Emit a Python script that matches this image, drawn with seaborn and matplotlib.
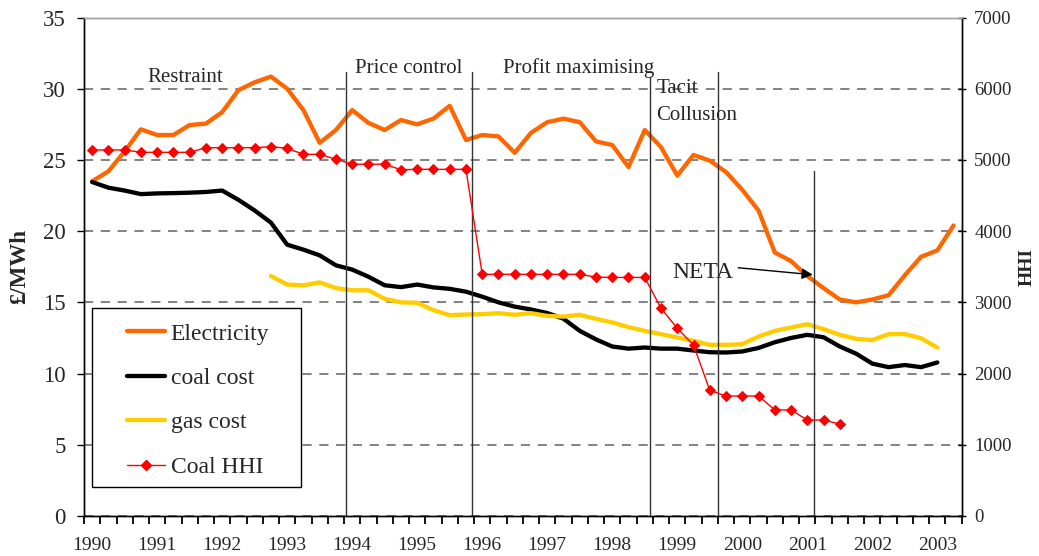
import numpy as np
import pandas as pd
import matplotlib
matplotlib.use("Agg")
import matplotlib.pyplot as plt
import matplotlib.transforms as mtransforms
import seaborn as sns
from matplotlib.patches import Rectangle
from matplotlib.lines import Line2D
from matplotlib.ticker import FixedLocator, FixedFormatter

# ---------------- data (quarterly, 1990 Q1 .. 2003 Q2) ----------------
years = [str(y) for y in range(1990, 2004)]
nan = np.nan

electricity = [23.5, 24.2, 25.6, 27.15, 26.75, 26.75, 27.45, 27.55, 28.35, 29.9,
               30.45, 30.85, 30.0, 28.5, 26.2, 27.1, 28.5, 27.6, 27.1, 27.8,
               27.5, 27.9, 28.8, 26.4, 26.75, 26.65, 25.5, 26.9, 27.65, 27.9,
               27.65, 26.3, 26.05, 24.5, 27.1, 25.9, 23.9, 25.35, 24.95, 24.15,
               22.9, 21.45, 18.5, 17.9, 16.85, 16.0, 15.2, 15.0, 15.2, 15.5,
               16.9, 18.2, 18.65, 20.4]

coal_cost = [23.45, 23.05, 22.85, 22.6, 22.65, 22.67, 22.7, 22.75, 22.85, 22.2,
             21.45, 20.6, 19.05, 18.7, 18.3, 17.6, 17.3, 16.8, 16.2, 16.07,
             16.25, 16.05, 15.95, 15.75, 15.4, 15.0, 14.7, 14.5, 14.25, 13.85,
             13.0, 12.4, 11.9, 11.75, 11.83, 11.75, 11.75, 11.62, 11.5, 11.48,
             11.55, 11.8, 12.2, 12.5, 12.72, 12.55, 11.9, 11.4, 10.7, 10.45,
             10.6, 10.45, 10.78, nan]

gas_cost = [nan, nan, nan, nan, nan, nan, nan, nan, nan, nan,
            nan, 16.85, 16.25, 16.2, 16.4, 16.0, 15.85, 15.85, 15.25, 15.0,
            14.97, 14.45, 14.1, 14.15, 14.17, 14.24, 14.13, 14.24, 14.05, 14.0,
            14.13, 13.84, 13.59, 13.26, 13.0, 12.77, 12.53, 12.3, 12.02, 12.02,
            12.06, 12.6, 13.0, 13.23, 13.47, 13.12, 12.72, 12.44, 12.35, 12.77,
            12.77, 12.48, 11.83, nan]

coal_hhi = [5140, 5140, 5140, 5107, 5107, 5107, 5107, 5172, 5172, 5172,
            5172, 5186, 5163, 5079, 5079, 5010, 4940, 4940, 4940, 4862,
            4868, 4868, 4868, 4868, 3394, 3394, 3394, 3394, 3394, 3394,
            3394, 3355, 3350, 3350, 3350, 2916, 2636, 2401, 1765, 1685,
            1685, 1685, 1489, 1489, 1348, 1348, 1292, nan, nan, nan,
            nan, nan, nan, nan]

# phase annotations (x in quarter index, y in £/MWh)
phase_labels = ["Restraint", "Price control", "Profit maximising", "Tacit", "Collusion"]
phase_x = [3.4, 16.2, 25.25, 34.7, 34.7]
phase_y = [30.45, 31.1, 31.1, 29.7, 27.83]
boundary_x = [15.59, 23.37, 34.31, 38.5, 44.43]
boundary_top = [31.2, 31.2, 30.85, 31.2, 24.24]

n = len(electricity)
q = np.arange(n)
df = pd.DataFrame({"q": q, "Electricity": electricity, "coal cost": coal_cost,
                   "gas cost": gas_cost, "Coal HHI": coal_hhi})

# ---------------- style ----------------
sns.set_style("white")
plt.rcParams["font.family"] = ["Liberation Serif", "DejaVu Serif"]

W, H = 1039, 556
fig = plt.figure(figsize=(W / 100, H / 100), dpi=100)
L, R, T, B = 84, 961.7, 17.5, 516
ax = fig.add_axes([L / W, 1 - B / H, (R - L) / W, (B - T) / H])
ax2 = ax.twinx()

c_elec = "#FF6600"
c_coal = "#000000"
c_gas = "#FFCC00"
c_hhi = "#FF0000"

sns.lineplot(data=df, x="q", y="Electricity", ax=ax, color=c_elec, lw=3.1, sort=False, legend=False)
sns.lineplot(data=df, x="q", y="coal cost", ax=ax, color=c_coal, lw=3.1, sort=False, legend=False)
sns.lineplot(data=df, x="q", y="gas cost", ax=ax, color=c_gas, lw=3.1, sort=False, legend=False)
sns.lineplot(data=df, x="q", y="Coal HHI", ax=ax2, color=c_hhi, lw=1.0, marker="D",
             markersize=5, markeredgecolor=c_hhi, sort=False, legend=False)

# axes limits / ticks
ax.set_xlim(-0.5, n - 0.5)
ax.set_ylim(0, 35)
ax2.set_ylim(0, 7000)
ax.set_yticks(np.arange(0, 36, 5))
ax2.set_yticks(np.arange(0, 7001, 1000))
ax.xaxis.set_major_locator(FixedLocator(np.arange(0, n, 4)))
ax.xaxis.set_major_formatter(FixedFormatter(years))
ax.xaxis.set_minor_locator(FixedLocator([]))

# category-boundary tick marks below the x axis
tick_pos = np.arange(-0.5, n, 1)
trans = mtransforms.blended_transform_factory(ax.transData, ax.transAxes)
ax.vlines(tick_pos, 0, -8.0 / (B - T), transform=trans, colors="black", lw=1.3,
          clip_on=False, zorder=3)

ax.set_xlabel("")
ax.set_ylabel("£/MWh", fontsize=16.5, fontweight="bold")
ax.yaxis.set_label_coords((30 - L) / (R - L), 0.5)
ax2.set_ylabel("HHI", fontsize=14, fontweight="bold", rotation=90)
ax2.yaxis.set_label_coords((1019 - L) / (R - L), 0.5)

# grid
ax.yaxis.grid(True, linestyle=(0, (6, 5)), color="#606060", lw=1.1)
ax.xaxis.grid(False, which="both")
ax2.grid(False)
ax.set_axisbelow(True)

for a in (ax, ax2):
    for s in a.spines.values():
        s.set_linewidth(1)
        s.set_color("black")
    a.spines["top"].set_color("#a0a0a0")

# phase boundaries and labels
for bx, bt in zip(boundary_x, boundary_top):
    ax.plot([bx, bx], [0, bt], color="#333333", lw=1, zorder=3)
for lab, tx, ty in zip(phase_labels, phase_x, phase_y):
    ax.text(tx, ty, lab, fontsize=15, ha="left", va="baseline", zorder=4)

ax.text(35.7, 16.7, "NETA", fontsize=17, ha="left", va="baseline", zorder=4)
ax.annotate("", xy=(44.33, 16.94), xytext=(39.75, 17.43),
            arrowprops=dict(arrowstyle="-|>", color="black", lw=1, mutation_scale=16,
                            shrinkA=0, shrinkB=0), zorder=4)

# tick styling (applied last)
ax.tick_params(axis="x", which="major", length=0, pad=15, labelsize=14, bottom=True,
               top=False)
ax.tick_params(axis="y", direction="out", length=5, width=1, color="black",
               pad=8, labelsize=16.5, left=True)
ax2.tick_params(axis="y", direction="inout", length=6, width=1, color="black",
                pad=6, labelsize=13.5, right=True)

# legend
fig.add_artist(Rectangle((92 / W, 1 - 487 / H), 209 / W, 179 / H, transform=fig.transFigure,
                         facecolor="white", edgecolor="black", lw=1, zorder=4))
handles = [Line2D([], [], color=c_elec, lw=3.1),
           Line2D([], [], color=c_coal, lw=3.1),
           Line2D([], [], color=c_gas, lw=3.1),
           Line2D([], [], color=c_hhi, lw=1.0, marker="D", markersize=5)]
labels = ["Electricity", "coal cost", "gas cost", "Coal HHI"]
leg = fig.legend(handles, labels, loc="upper left", bbox_to_anchor=(127 / W, 1 - 323 / H),
                 borderpad=0, borderaxespad=0, frameon=False, handlelength=1.6,
                 handletextpad=0.25, labelspacing=0.97, prop={"size": 17})
leg.set_zorder(5)

fig.savefig("out.png", dpi=100)
